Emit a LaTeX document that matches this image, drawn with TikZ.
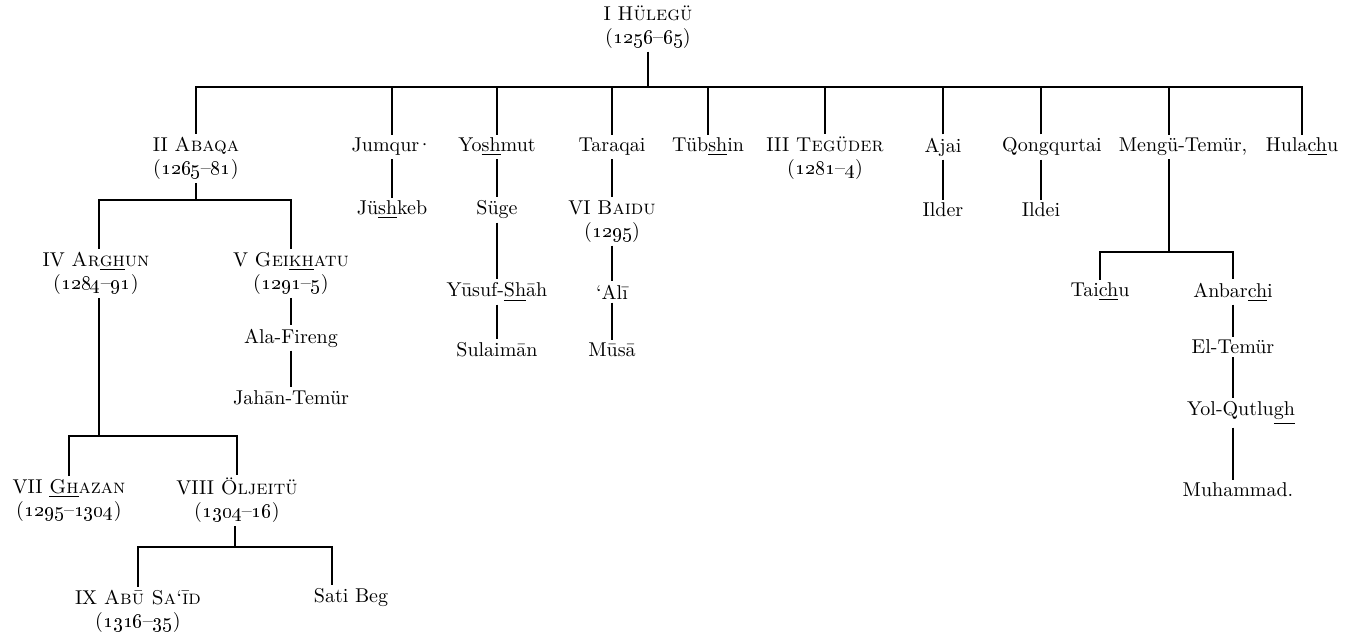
\documentclass[tikz,border=0pt]{standalone}
\newcommand{\osn}[1]{\oldstylenums{#1}}
\begin{document}
\begin{tikzpicture}[x=0.5pt,y=-0.5pt,
  every node/.style={inner sep=1.5pt, font=\fontsize{10}{11.5}\selectfont, align=center},
  link/.style={line width=0.6pt}]
\useasboundingbox (0,0) rectangle (1350,640);
% generation 0
\node (hul) at (648,27) {I \textsc{Hülegü}\\(\osn{1256}–\osn{65})};
% generation 1
\node (aba) at (196,158.5) {II \textsc{Abaqa}\\(\osn{1265}–\osn{81})};
\node (jum) at (392,147) {Jumqur\kern-1.2pt·};
\node (yos) at (497,147) {Yo\underline{sh}mut};
\node (tar) at (612,147) {Taraqai};
\node (tub) at (708,147) {Tüb\underline{sh}in};
\node (teg) at (825,158.5) {III \textsc{Tegüder}\\(\osn{1281}–\osn{4})};
\node (aja) at (943,147) {Ajai};
\node (qon) at (1052,147) {Qongqurtai};
\node (men) at (1183,147) {Mengü-Temür,};
\node (hula) at (1302,147) {Hula\underline{ch}u};
% generation 2
\node (jus) at (392,210) {Jü\underline{sh}keb};
\node (sug) at (497,210) {Süge};
\node (bai) at (612,221.5) {VI \textsc{Baidu}\\(\osn{1295})};
\node (ild) at (943,210) {Ilder};
\node (ilde) at (1041,210) {Ildei};
\node (arg) at (96,273.5) {IV \textsc{Ar\underline{gh}un}\\(\osn{1284}–\osn{91})};
\node (gei) at (291,273.5) {V \textsc{Gei\underline{kh}atu}\\(\osn{1291}–\osn{5})};
\node (tai) at (1100,292) {Tai\underline{ch}u};
\node (anb) at (1233,292) {Anbar\underline{ch}i};
% generation 3
\node (ala) at (291,338) {Ala-Fireng};
\node (yus) at (497,292) {Yūsuf-\underline{Sh}āh};
\node (ali) at (612,292) {‘Alī};
\node (elt) at (1233,347) {El-Temür};
\node (gha) at (69,500.5) {VII \textsc{\underline{Gh}azan}\\(\osn{1295}–\osn{1304})};
\node (olj) at (237,500.5) {VIII \textsc{Öljeitü}\\(\osn{1304}–\osn{16})};
% generation 4
\node (jah) at (291,398) {Jahān-Temür};
\node (sul) at (497,350) {Sulaimān};
\node (mus) at (612,350) {Mūsā};
\node (yol) at (1241,413) {Yol-Qutlu\underline{gh}};
\node (abu) at (138,611.5) {IX \textsc{Abū Sa‘īd}\\(\osn{1316}–\osn{35})};
\node (sat) at (351,598) {Sati Beg};
% generation 5
\node (muh) at (1238,490) {Muhammad.};
% bar coordinates
\coordinate (hb) at (648,87);
\coordinate (ab) at (196,200);
\coordinate (mb) at (1169,252);
\coordinate (gb) at (99,436);
\coordinate (ob) at (235,547);
\coordinate (sx) at (332,547);
% connectors
\draw[link] (hul.south) -- (hb);
\draw[link] (aba.north) -- (aba.north |- hb) -- (hula.north |- hb) -- (hula.north);
\foreach \n in {jum,yos,tar,tub,teg,aja} \draw[link] (\n.north) -- (\n.north |- hb);
\draw[link] (ilde.north |- qon.north) -- (ilde.north |- hb);
\draw[link] (men.north -| mb) -- (hb -| mb);
\draw[link] (jum.south) -- (jus.north);
\draw[link] (yos.south) -- (sug.north);
\draw[link] (sug.south) -- (yus.north);
\draw[link] (yus.south) -- (sul.north);
\draw[link] (tar.south) -- (bai.north);
\draw[link] (bai.south) -- (ali.north);
\draw[link] (ali.south) -- (mus.north);
\draw[link] (aja.south) -- (ild.north);
\draw[link] (qon.south -| ilde.north) -- (ilde.north);
\draw[link] (men.south -| mb) -- (mb);
\draw[link] (tai.north) |- (mb) -| (anb.north);
\draw[link] (anb.south) -- (elt.north);
\draw[link] (elt.south) -- (elt.south |- yol.north);
\draw[link] (yol.south -| elt.south) -- (muh.north -| elt.south);
\draw[link] (aba.south) -- (ab);
\draw[link] (arg.north -| gb) |- (ab) -| (gei.north);
\draw[link] (gei.south) -- (ala.north);
\draw[link] (ala.south) -- (jah.north);
\draw[link] (arg.south -| gb) -- (gb);
\draw[link] (gha.north) |- (gb) -| (olj.north);
\draw[link] (olj.south -| ob) -- (ob);
\draw[link] (abu.north) |- (ob) -- (sx) -- (sx |- sat.north);
\end{tikzpicture}
\end{document}
